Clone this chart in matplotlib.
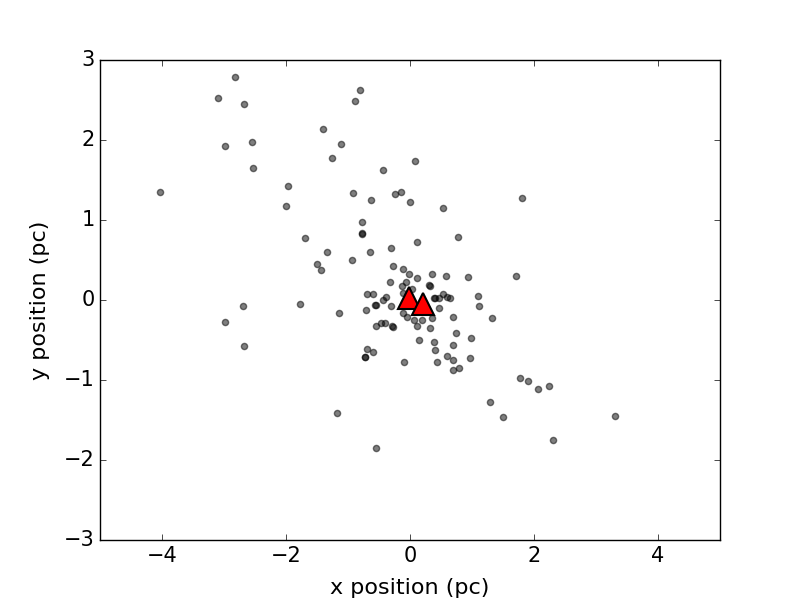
import numpy as np
import matplotlib
matplotlib.use('Agg')
import matplotlib.pyplot as plt

# star positions (pc)
star_x = [-2.83, -3.09, -2.68, -0.81, -0.88, -1.41, -1.12, -1.26, -2.55, -2.99,
          -2.54, 0.08, -0.44, -4.04, -1.97, -2.00, -0.92, -0.63, -0.25, -0.15,
          0.00, -0.78, -0.78, -0.78, 0.12, -1.70, -1.34, -0.65, -0.30, -1.50,
          -1.44, -0.94, -0.28, -0.12, -0.02, 0.11, -0.33, -0.06, -0.70, -0.59,
          -0.38, -0.44, -2.70, -2.99, -2.68, -1.78, -1.15, -0.71, -0.57, -0.55,
          -0.31, -0.55, -0.47, -0.41, -0.29, -0.27, -0.70, -0.59, -0.73, -0.72,
          -0.10, -1.18, -0.55, -0.05, 0.06, 0.12, 0.15, 0.54, 1.81, 0.77,
          0.35, 0.58, 0.93, 1.71, 0.32, 0.31, 1.09, 1.11, 0.41, 0.46,
          0.54, 0.59, 0.64, 0.47, 0.69, 1.32, 0.35, 0.19, -0.12, 0.33,
          0.74, 0.99, 0.38, 0.70, 0.40, 0.59, 0.69, 0.96, 0.43, 0.70,
          0.79, 1.77, 1.91, 2.06, 2.24, 1.29, 1.50, 3.30, 2.30, -0.13,
          0.04, -0.12, 0.39, 0.00, 0.20]
star_y = [2.79, 2.53, 2.45, 2.62, 2.49, 2.14, 1.95, 1.78, 1.98, 1.92,
          1.65, 1.74, 1.62, 1.35, 1.43, 1.17, 1.34, 1.25, 1.32, 1.35,
          1.23, 0.97, 0.83, 0.84, 0.72, 0.78, 0.60, 0.60, 0.65, 0.45,
          0.37, 0.50, 0.43, 0.39, 0.33, 0.28, 0.22, 0.23, 0.07, 0.08,
          0.04, 0.00, -0.08, -0.28, -0.58, -0.05, -0.16, -0.13, -0.06, -0.06,
          -0.08, -0.33, -0.29, -0.29, -0.32, -0.34, -0.61, -0.65, -0.71, -0.71,
          -0.78, -1.41, -1.85, -0.21, -0.25, -0.33, -0.50, 1.15, 1.28, 0.79,
          0.33, 0.30, 0.29, 0.30, 0.18, 0.19, 0.05, -0.07, 0.03, 0.03,
          0.08, 0.04, 0.03, -0.10, -0.21, -0.22, -0.22, -0.25, -0.16, -0.35,
          -0.41, -0.47, -0.52, -0.56, -0.63, -0.70, -0.75, -0.73, -0.78, -0.87,
          -0.85, -0.97, -1.01, -1.11, -1.08, -1.28, -1.46, -1.45, -1.75, 0.17,
          0.14, 0.09, 0.02, 0.00, -0.05]

# cluster centres
centre_x = [-0.02, 0.21]
centre_y = [0.03, -0.05]

plt.style.use('classic')
plt.rcParams['font.size'] = 15

fig = plt.figure(figsize=(8, 6), dpi=100)
plt.scatter(star_x, star_y, c='k', alpha=0.5)
plt.plot(centre_x, centre_y, 'r^', markersize=16, markeredgewidth=1.5, markeredgecolor='k')
plt.xlim(-5, 5)
plt.ylim(-3, 3)
plt.xlabel('x position (pc)', fontsize=16, labelpad=9)
plt.ylabel('y position (pc)', fontsize=16, labelpad=10)
plt.savefig('out.png', dpi=100)
